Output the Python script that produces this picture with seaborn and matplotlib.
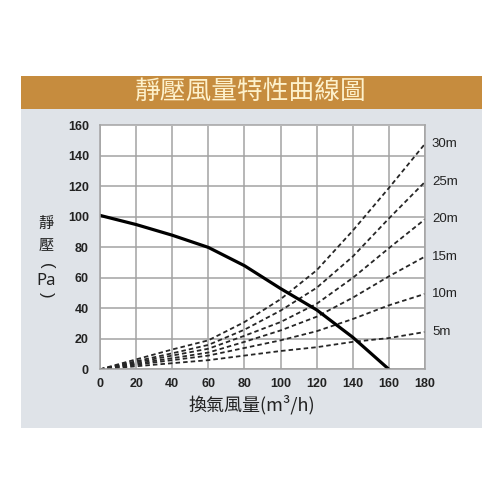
import pandas as pd
import seaborn as sns
import matplotlib.pyplot as plt
from matplotlib.patches import Rectangle

# static pressure curve of the fan
flow = [0, 10, 20, 40, 60, 80, 100, 120, 140, 160]
pressure = [101, 98, 95, 88, 80, 68, 53, 39, 21, 0]

# duct resistance curves (by duct length)
duct_flow = [0, 20, 40, 60, 80, 100, 120, 140, 160, 180]
duct_5m = [0, 2, 4, 6, 9, 12, 14.5, 18, 20.5, 24.5]
duct_10m = [0, 3, 6, 9, 14, 19, 25, 33, 42, 49.5]
duct_15m = [0, 3.7, 7.3, 11, 18, 25.5, 34.5, 47, 61, 74]
duct_20m = [0, 4.5, 9, 13.5, 22, 31, 43, 60, 79.5, 98.5]
duct_25m = [0, 5.3, 10.5, 16, 26, 38.5, 53.5, 74, 99, 123]
duct_30m = [0, 6.5, 13, 19, 31, 46, 65, 91, 119, 148]
duct_labels = ['5m', '10m', '15m', '20m', '25m', '30m']

x_ticks = [0, 20, 40, 60, 80, 100, 120, 140, 160, 180]
y_ticks = [0, 20, 40, 60, 80, 100, 120, 140, 160]

ducts = [duct_5m, duct_10m, duct_15m, duct_20m, duct_25m, duct_30m]
duct_df = pd.concat(
    [pd.DataFrame({'flow': duct_flow, 'pa': v, 'duct': lab}) for v, lab in zip(ducts, duct_labels)]
)
fan_df = pd.DataFrame({'flow': flow, 'pa': pressure})

sns.set_theme(style='white')
plt.rcParams['font.family'] = ['Liberation Sans', 'Noto Sans CJK TC', 'DejaVu Sans']
cjk = ['Noto Sans CJK TC', 'DejaVu Sans']

fig = plt.figure(figsize=(5, 5), dpi=100)
fig.patch.set_facecolor('white')

# grey panel and brown title band
fig.patches.append(Rectangle((0.042, 0.144), 0.922, 0.638, transform=fig.transFigure,
                             facecolor='#dfe3e8', edgecolor='none', zorder=-10))
fig.patches.append(Rectangle((0.042, 0.782), 0.922, 0.066, transform=fig.transFigure,
                             facecolor='#c68c3e', edgecolor='none', zorder=-10))
fig.text(0.501, 0.814, '靜壓風量特性曲線圖', family=cjk, fontsize=18.5, color='#fdf1cc',
         ha='center', va='center', fontweight='medium')

ax = fig.add_axes([0.2, 0.2614, 0.65, 0.4876])
ax.set_facecolor('white')

for lab in duct_labels:
    sub = duct_df[duct_df['duct'] == lab]
    sns.lineplot(data=sub, x='flow', y='pa', ax=ax, color='#262626', lw=1.3,
                 linestyle=(0, (2.5, 1.7)), legend=False)
    ax.annotate(lab, (180, sub['pa'].iloc[-1]), xytext=(5, 0), textcoords='offset points',
                ha='left', va='center', fontsize=9.5, color='#222', annotation_clip=False)

sns.lineplot(data=fan_df, x='flow', y='pa', ax=ax, color='black', lw=2.3, legend=False)

ax.set_xlim(0, 180)
ax.set_ylim(0, 160)
ax.set_xticks(x_ticks)
ax.set_yticks(y_ticks)
ax.grid(True, color='#a3a3a3', lw=1.1)
ax.set_axisbelow(True)
for sp in ax.spines.values():
    sp.set_color('#a3a3a3')
    sp.set_linewidth(1.1)
ax.tick_params(axis='both', length=3, width=1, color='#999', labelsize=9, labelcolor='#222')
ax.tick_params(axis='y', pad=5)
ax.tick_params(axis='x', pad=3)
for t in ax.get_xticklabels() + ax.get_yticklabels():
    t.set_fontweight('bold')
ax.set_xlabel('')
ax.set_ylabel('')

fig.text(0.504, 0.19, '換氣風量(m³/h)', family=cjk, fontsize=13, color='#222',
         ha='center', va='center', fontweight='medium')

# vertical y label, parentheses turned so they open downward / upward
fig.text(0.092, 0.554, '靜', family=cjk, fontsize=11, color='#222', ha='center', va='center',
         fontweight='medium')
fig.text(0.092, 0.51, '壓', family=cjk, fontsize=11, color='#222', ha='center', va='center',
         fontweight='medium')
fig.text(0.092, 0.468, '(', fontsize=12, color='#222', ha='center', va='center', rotation=-90)
fig.text(0.092, 0.438, 'Pa', family=['Noto Sans', 'DejaVu Sans'], fontsize=12, color='#222',
         ha='center', va='center')
fig.text(0.092, 0.41, ')', fontsize=12, color='#222', ha='center', va='center', rotation=-90)

fig.savefig('out.png', dpi=100)
